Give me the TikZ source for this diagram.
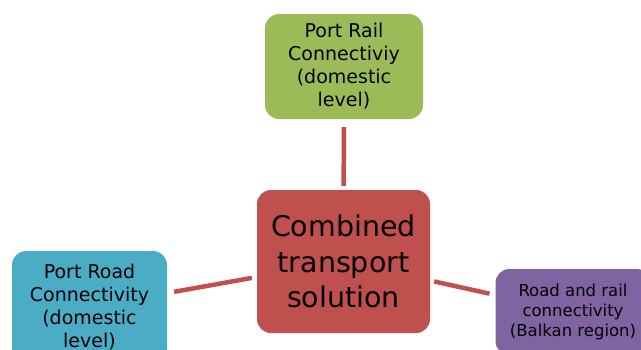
\documentclass[tikz,border=0pt]{standalone}
\usepackage{fontspec}
\setmainfont{DejaVu Sans}
\usetikzlibrary{positioning}
\definecolor{hubred}{HTML}{C0504D}
\definecolor{railgreen}{HTML}{9BBB59}
\definecolor{roadblue}{HTML}{4BACC6}
\definecolor{balkanviolet}{HTML}{8064A2}

\tikzset{
  topic/.style={rounded corners=14pt, align=center, text=black, inner sep=0pt},
  link/.style={hubred, line width=4.5pt},
}

\begin{document}
\begin{tikzpicture}[x=1pt,y=-1pt]
  \useasboundingbox (0,0) rectangle (641,349);
  \clip (0,0) rectangle (641,349);
  % hub in the middle
  \node[topic, fill=hubred, minimum width=173pt, minimum height=143pt,
        font=\fontsize{28.5}{35.5}\selectfont] (hub) at (343.5,261.5)
        {Combined\\transport\\solution};
  % the three branches
  \node[topic, fill=railgreen, minimum width=158pt, minimum height=105pt,
        font=\fontsize{19}{23}\selectfont] (rail) at (344,66.5)
        {Port Rail\\Connectiviy\\(domestic\\level)};
  \node[topic, fill=roadblue, minimum width=155pt, minimum height=112pt,
        font=\fontsize{19}{23}\selectfont] (road) at (89.5,307)
        {Port Road\\Connectivity\\(domestic\\level)};
  \node[topic, fill=balkanviolet, minimum width=155pt, minimum height=86pt,
        font=\fontsize{16.5}{20}\selectfont] (balkan) at (573,312)
        {Road and rail\\connectivity\\(Balkan region)};
  % spokes
  \draw[link, shorten <=4pt, shorten >=8pt] (hub) -- (rail);
  \draw[link, shorten <=5pt, shorten >=7pt] (hub) -- (road);
  \draw[link, shorten <=4pt, shorten >=6pt] (hub) -- (balkan);
\end{tikzpicture}
\end{document}
